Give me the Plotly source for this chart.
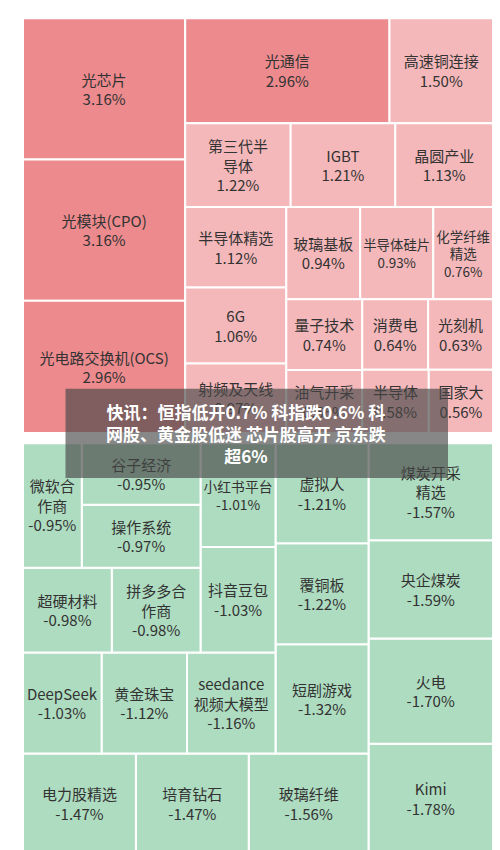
import plotly.graph_objects as go

up_labels = ["光芯片","光模块(CPO)","光电路交换机(OCS)","光通信","高速铜连接","第三代半导体","IGBT","晶圆产业",
             "半导体精选","6G","射频及天线","玻璃基板","半导体硅片","化学纤维精选","量子技术","消费电","光刻机",
             "油气开采","半导体","国家大"]
up_vals = [3.16,3.16,2.96,2.96,1.50,1.22,1.21,1.13,1.12,1.06,0.97,0.94,0.93,0.76,0.74,0.64,0.63,0.66,0.58,0.56]
down_labels = ["谷子经济","微软合作商","操作系统","小红书平台","虚拟人","煤炭开采精选","拼多多合作商","超硬材料",
               "DeepSeek","覆铜板","央企煤炭","抖音豆包","黄金珠宝","seedance视频大模型","短剧游戏","火电",
               "培育钻石","电力股精选","玻璃纤维","Kimi"]
down_vals = [-0.95,-0.95,-0.97,-1.01,-1.21,-1.57,-0.98,-0.98,-1.03,-1.22,-1.59,-1.03,-1.12,-1.16,-1.32,-1.70,
             -1.47,-1.47,-1.56,-1.78]

def wrap(s, n=4):
    if s == "seedance视频大模型":
        return "seedance<br>视频大模型"
    if s == "微软合作商":
        return "微软合<br>作商"
    if s.isascii() or s.startswith("光电路") or s.startswith("光模块") or len(s) <= 5:
        return s
    return "<br>".join(s[i:i+n] for i in range(0, len(s), n))

def trace(labels, vals, colors, y0, y1, flip=""):
    return go.Treemap(
        labels=[wrap(l) for l in labels], parents=[""]*len(labels),
        values=[abs(v) for v in vals], customdata=[f"{v:.2f}%" for v in vals],
        texttemplate="%{label}<br>%{customdata}", textposition="middle center",
        marker=dict(colors=colors, line=dict(color="white", width=2),
                    pad=dict(t=0, l=0, r=0, b=0)),
        textfont=dict(size=15, color="#333333", family="Noto Sans CJK SC"),
        sort=True, tiling=dict(pad=0, flip=flip) if flip else dict(pad=0),
        pathbar=dict(visible=False),
        domain=dict(x=[0.03, 0.97], y=[y0, y1]),
        hoverinfo="label+text")

up_colors = ["#ec8a8d" if v >= 2.9 else "#f5b8ba" for v in up_vals]
down_colors = ["#aedcc0"]*len(down_vals)

fig = go.Figure([trace(up_labels, up_vals, up_colors, 0.5, 0.988),
                 trace(down_labels, down_vals, down_colors, 0.005, 0.488, "x+y")])
fig.add_shape(type="rect", xref="paper", yref="paper", x0=0.115, x1=0.88, y0=0.447, y1=0.552,
              fillcolor="rgba(70,70,70,0.65)", line_width=0, layer="above")
fig.add_annotation(xref="paper", yref="paper", x=0.475, y=0.5, showarrow=False,
                   text="<b>快讯：恒指低开0.7% 科指跌0.6% 科<br>网股、黄金股低迷 芯片股高开 京东跌<br>超6%</b>",
                   font=dict(size=17, color="white", family="Noto Sans CJK SC"), align="center")
fig.update_layout(width=500, height=850, margin=dict(l=0, r=0, t=0, b=0),
                  paper_bgcolor="white")
fig.write_html("out.html")
